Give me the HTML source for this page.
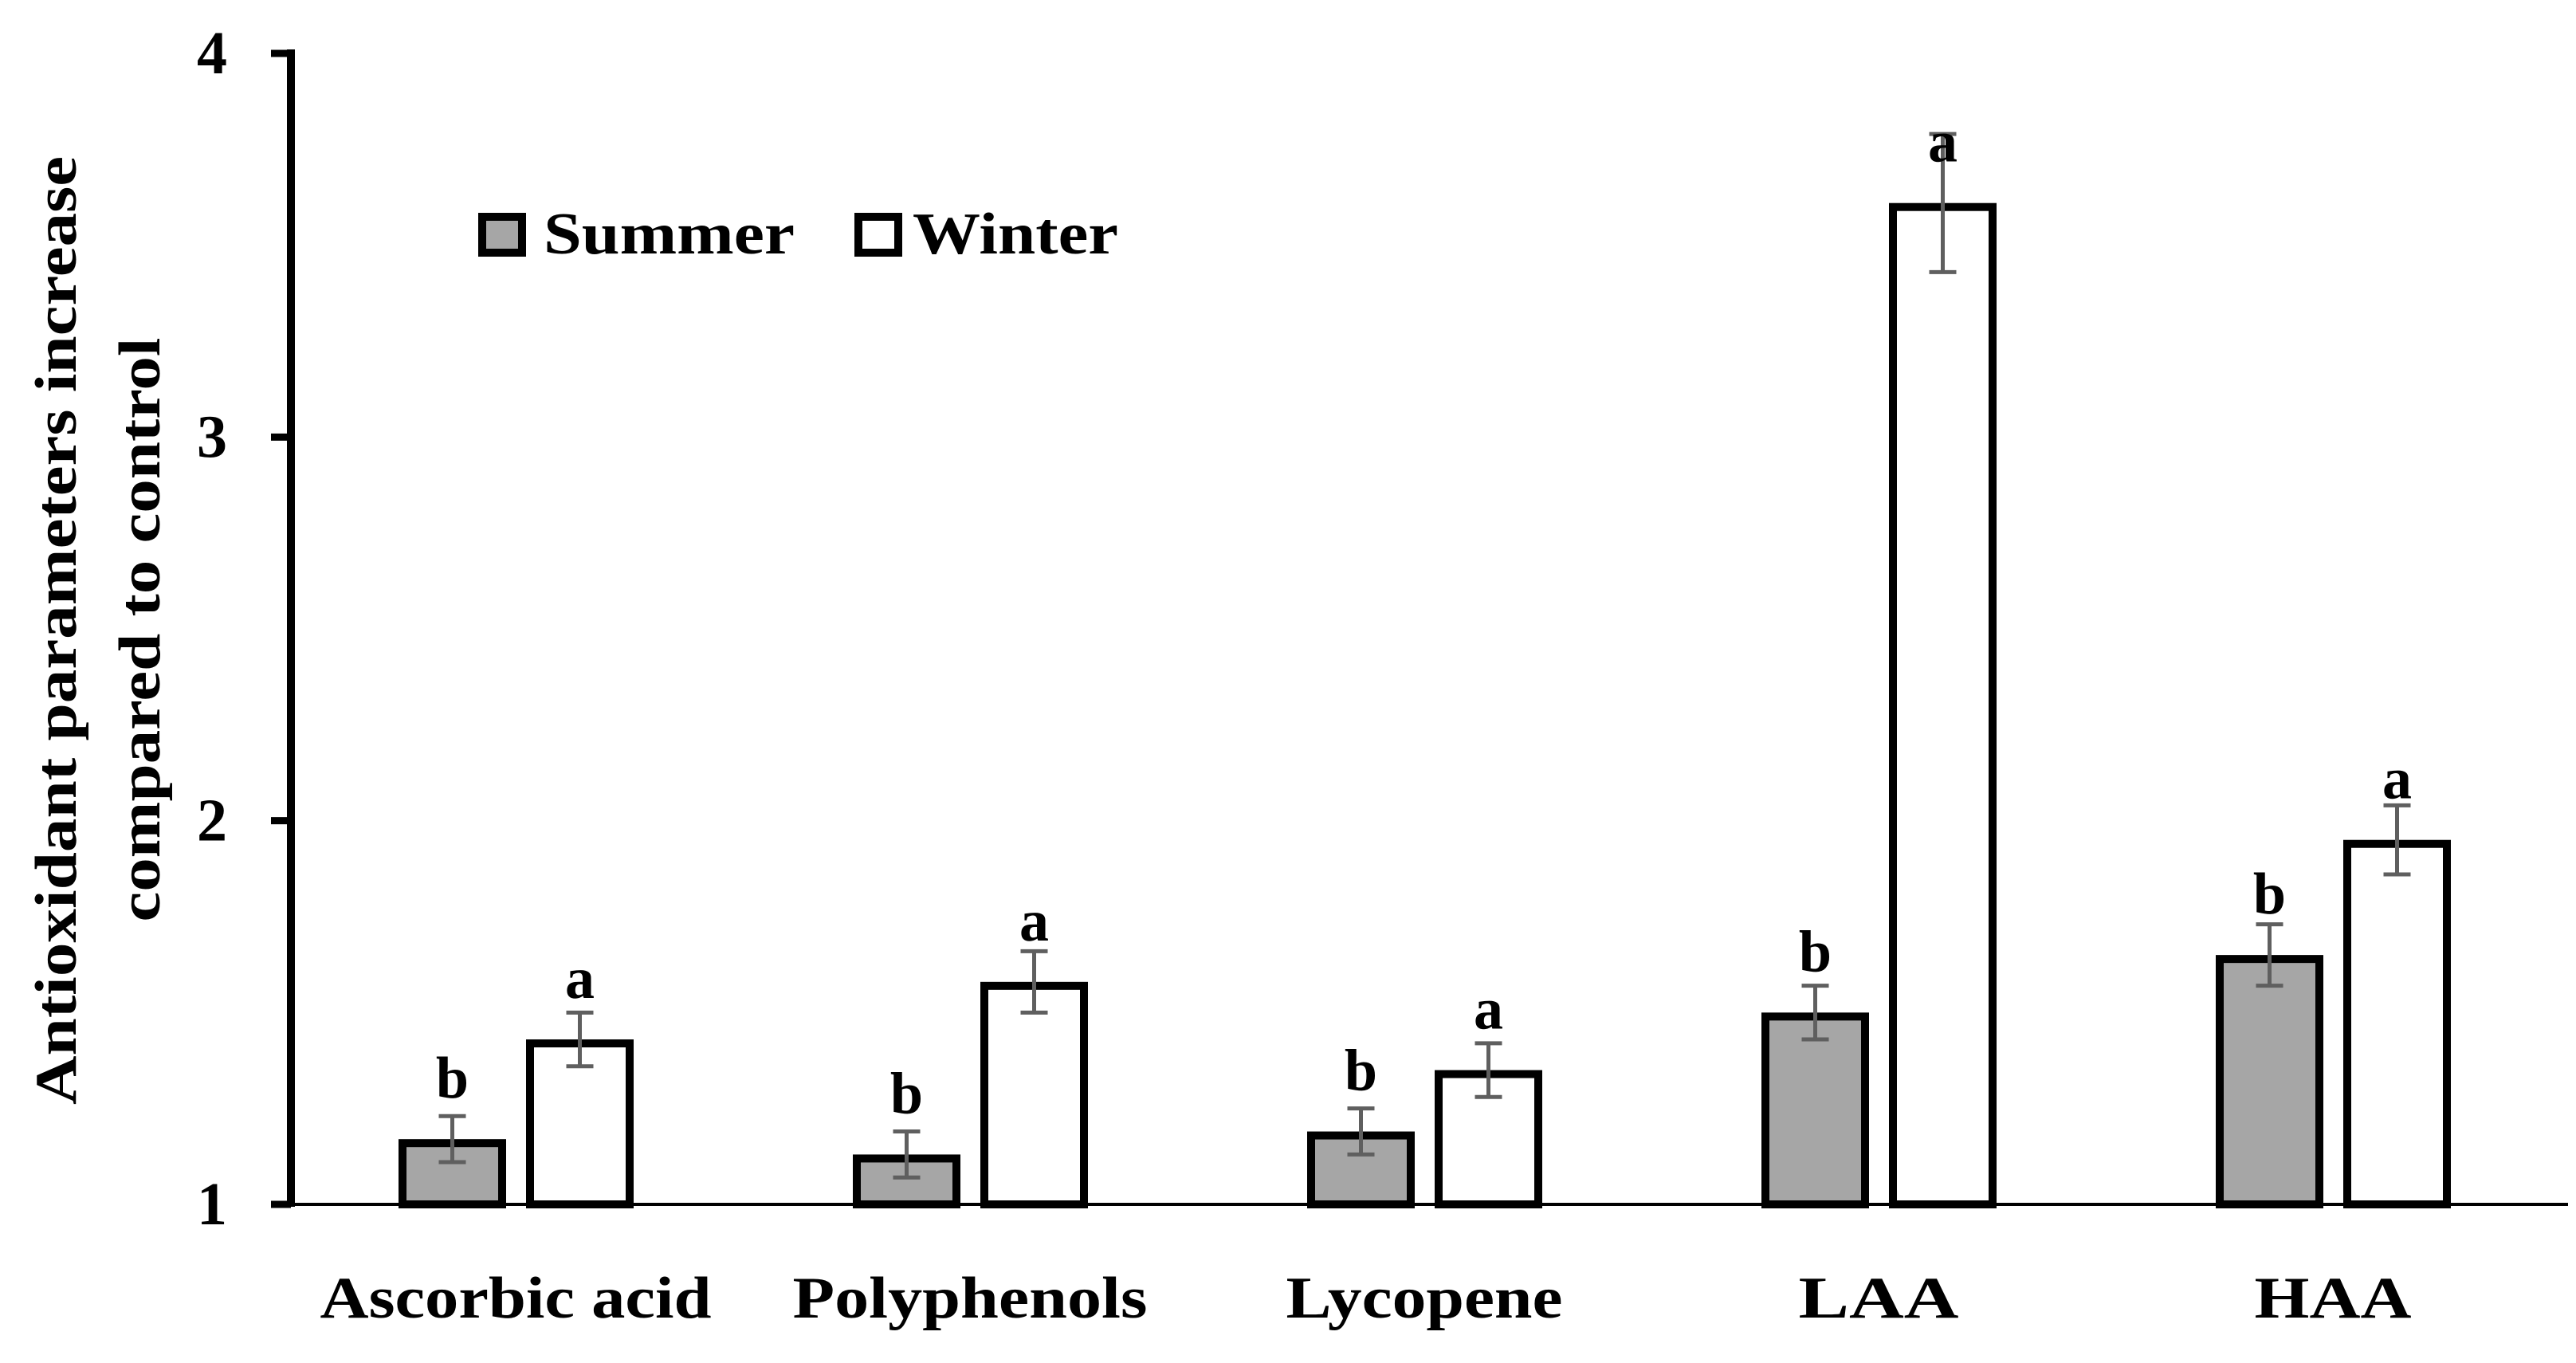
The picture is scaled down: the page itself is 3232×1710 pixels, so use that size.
<!DOCTYPE html>
<html><head><meta charset="utf-8"><style>
html,body{margin:0;padding:0;background:#fff;}
svg{display:block;}
text{font-family:"Liberation Serif",serif;font-weight:bold;fill:#000;}
</style></head><body>
<svg id="chart" width="3232" height="1710" viewBox="0 0 3232 1710" xmlns="http://www.w3.org/2000/svg">
<g id="axes"></g>
<g id="bars"></g>
<g id="legend">
  <rect x="605" y="272" width="50" height="45" fill="#a6a6a6" stroke="#000" stroke-width="10"/>
  <text x="682" y="318" font-size="74" textLength="315" lengthAdjust="spacingAndGlyphs">Summer</text>
  <rect x="1077" y="272" width="50" height="45" fill="#fff" stroke="#000" stroke-width="10"/>
  <text x="1145" y="318" font-size="74" textLength="258" lengthAdjust="spacingAndGlyphs">Winter</text>
</g>
<g>
  <text transform="translate(95,791) rotate(-90)" text-anchor="middle" font-size="74" textLength="1190" lengthAdjust="spacingAndGlyphs">Antioxidant parameters increase</text>
  <text transform="translate(200,790) rotate(-90)" text-anchor="middle" font-size="74" textLength="733" lengthAdjust="spacingAndGlyphs">compared to control</text>
</g>
</svg>
<script>
const categories = ["Ascorbic acid", "Polyphenols", "Lycopene", "LAA", "HAA"];
const summerValues = [1.17, 1.13, 1.19, 1.50, 1.65];
const winterValues = [1.43, 1.58, 1.35, 3.61, 1.95];
const summerErrors = [0.06, 0.06, 0.06, 0.07, 0.08];
const winterErrors = [0.07, 0.08, 0.07, 0.18, 0.09];
const summerLetters = ["b", "b", "b", "b", "b"];
const winterLetters = ["a", "a", "a", "a", "a"];
const yTicks = [1, 2, 3, 4];
const labelWidths = [491, 445, 347, 201, 197];

const NS = "http://www.w3.org/2000/svg";
const yMin = 1, yMax = 4, yBase = 1511, yTop = 67;
function yScale(v){ return yBase - (v - yMin) / (yMax - yMin) * (yBase - yTop); }
function groupLeft(i){ return 500 + i * 570; }
function mk(tag, attrs, parent){
  const e = document.createElementNS(NS, tag);
  for (const k in attrs) e.setAttribute(k, attrs[k]);
  parent.appendChild(e);
  return e;
}
const axes = document.getElementById('axes');
const bars = document.getElementById('bars');

// x axis
const xa = mk('line', {x1:365, y1:yBase, x2:3222, y2:yBase, stroke:'#000', 'stroke-width':4}, axes);


// y axis
const ya = mk('line', {x1:365, y1:yTop-5, x2:365, y2:yBase+3, stroke:'#000', 'stroke-width':10}, axes);


yTicks.forEach(t => {
  const y = yScale(t);
  const tk = mk('line', {x1:340, y1:y, x2:365, y2:y, stroke:'#000', 'stroke-width':9}, axes);
  
  
  const tl = mk('text', {x:285, y:y+25, 'text-anchor':'end', 'font-size':76}, axes);
  tl.textContent = String(t);
  
  
});

function drawBar(x, v, err, letter, fill, name){
  const top = yScale(v);
  const r = mk('rect', {x:x+5, y:top+5, width:125, height:yBase-top-5, fill:fill, stroke:'#000', 'stroke-width':10}, bars);
  
  
  const cx = x + 67.5;
  const eHi = yScale(v + err), eLo = yScale(v - err);
  const eb = mk('path', {d:`M${cx},${eHi}V${eLo}M${cx-17},${eHi}H${cx+17}M${cx-17},${eLo}H${cx+17}`, stroke:'#5f5f5f', 'stroke-width':5, fill:'none'}, bars);
  
  
  const lt = mk('text', {x:cx, y:top-52, 'text-anchor':'middle', 'font-size':74}, bars);
  lt.textContent = letter;
  
  
}

categories.forEach((c, i) => {
  const gx = groupLeft(i);
  drawBar(gx, summerValues[i], summerErrors[i], summerLetters[i], '#a6a6a6', 'bar-summer-' + i);
  drawBar(gx + 160, winterValues[i], winterErrors[i], winterLetters[i], '#ffffff', 'bar-winter-' + i);
  const cl = mk('text', {x:gx + 147, y:1653, 'text-anchor':'middle', 'font-size':74, textLength:labelWidths[i], lengthAdjust:'spacingAndGlyphs'}, axes);
  cl.textContent = c;
  
  
});
</script>
</body></html>
